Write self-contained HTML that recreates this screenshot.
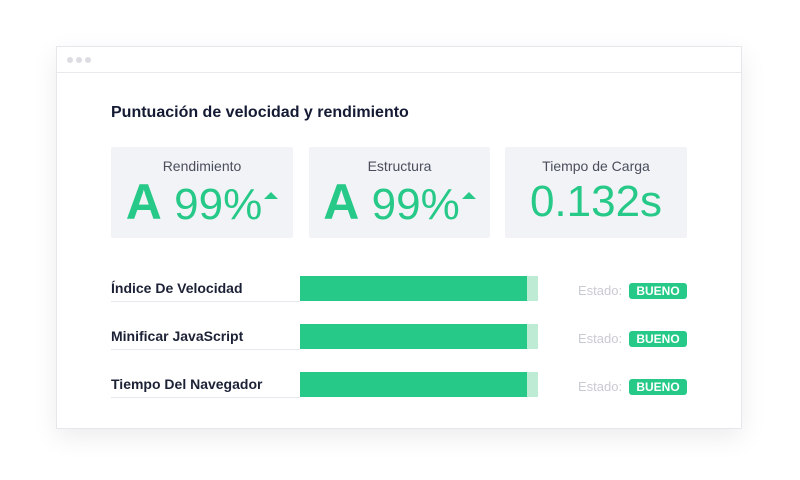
<!DOCTYPE html>
<html><head><meta charset="utf-8"><style>
body{margin:0;width:800px;height:480px;background:#fff;font-family:"Liberation Sans",sans-serif;position:relative;overflow:hidden}
.win{position:absolute;left:56px;top:46px;width:684px;height:381px;background:#fff;border:1px solid #e6e7ea;box-shadow:0 8px 24px rgba(0,0,0,.08)}
.hdr{position:absolute;left:0;top:0;right:0;height:25px;border-bottom:1px solid #e8e9ec}
.dot{position:absolute;top:10px;width:6px;height:6px;border-radius:50%;background:#dcdde2}
h1{position:absolute;left:54px;top:57px;margin:0;font-size:16px;font-weight:bold;color:#141a33}
.card{position:absolute;top:100px;height:91px;background:#f2f3f7;border-radius:2px;text-align:center}
.card .t{margin-top:11px;font-size:14px;color:#4a4e5c}
.card .v{margin-top:3px;color:#26c987;font-size:44px;line-height:50px;white-space:nowrap}
.tri{display:inline-block;width:0;height:0;border-left:7px solid transparent;border-right:7px solid transparent;border-bottom:7px solid #26c987;vertical-align:20px;margin-left:2px}
.lbl{position:absolute;left:54px;width:189px;font-size:14px;font-weight:bold;color:#1c2136;border-bottom:1px solid #e6e7ea;height:21px}
.bar{position:absolute;left:243px;width:238px;height:25px;background:#bdebd4}
.bar i{position:absolute;left:0;top:0;bottom:0;width:227px;background:#26c987}
.est{position:absolute;left:521px;font-size:13px;color:#c9cbd3}
.bd{position:absolute;left:572px;width:58px;height:16px;border-radius:3px;background:#26c987;color:#fff;font-size:12px;font-weight:bold;text-align:center;line-height:16px}
</style></head><body>
<div class="win">
<div class="hdr"><div class="dot" style="left:10px"></div><div class="dot" style="left:19px"></div><div class="dot" style="left:28px"></div></div>
<h1>Puntuación de velocidad y rendimiento</h1>
<div class="card" style="left:54px;width:182px"><div class="t">Rendimiento</div><div class="v"><b style="font-size:50px">A</b> 99%<span class="tri"></span></div></div>
<div class="card" style="left:252px;width:181px"><div class="t">Estructura</div><div class="v"><b style="font-size:50px">A</b> 99%<span class="tri"></span></div></div>
<div class="card" style="left:448px;width:182px"><div class="t">Tiempo de Carga</div><div class="v">0.132s</div></div>

<div class="lbl" style="top:233px">Índice De Velocidad</div>
<div class="bar" style="top:229px"><i></i></div>
<div class="est" style="top:236px">Estado:</div><div class="bd" style="top:236px">BUENO</div>

<div class="lbl" style="top:281px">Minificar JavaScript</div>
<div class="bar" style="top:277px"><i></i></div>
<div class="est" style="top:284px">Estado:</div><div class="bd" style="top:284px">BUENO</div>

<div class="lbl" style="top:329px">Tiempo Del Navegador</div>
<div class="bar" style="top:325px"><i></i></div>
<div class="est" style="top:332px">Estado:</div><div class="bd" style="top:332px">BUENO</div>
</div>
</body></html>
